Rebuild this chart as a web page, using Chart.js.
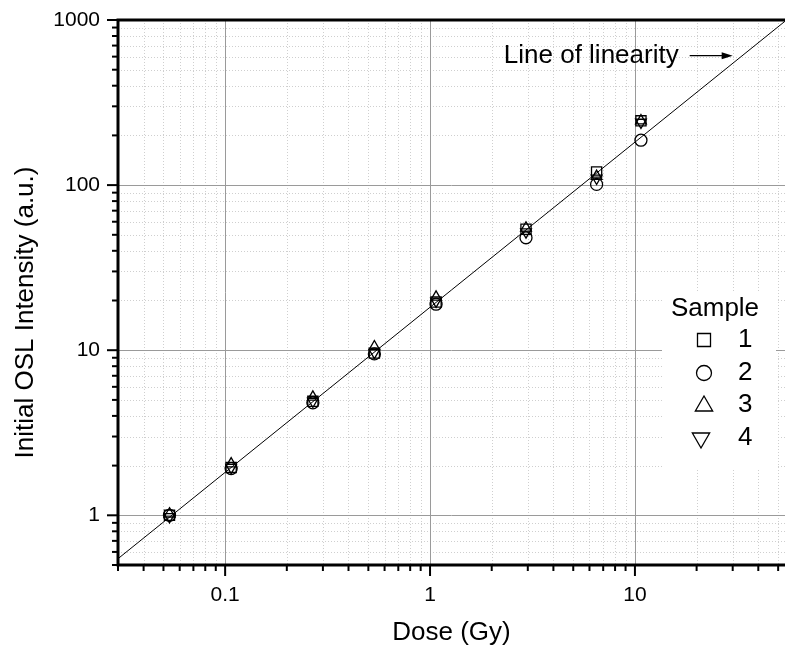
<!DOCTYPE html>
<html><head><meta charset="utf-8">
<script src="https://cdn.jsdelivr.net/npm/chart.js@4/dist/chart.umd.min.js"></script>
<style>html,body{margin:0;padding:0;background:#fff}canvas{display:block}</style>
</head><body>
<canvas id="c" width="785" height="648"></canvas>
<script>
// ---- data ----
const doses   = [0.0535, 0.107, 0.268, 0.535, 1.07, 2.94, 6.5, 10.7];
const sample1 = [1.00, 1.95, 4.90, 9.60, 19.6, 54, 120, 245];   // squares
const sample2 = [1.00, 1.92, 4.80, 9.50, 19.0, 48, 101, 187];   // circles
const sample3 = [1.02, 2.05, 5.20, 10.5, 21.0, 55, 113, 245];   // triangles
const sample4 = [0.98, 1.95, 4.90, 9.70, 19.8, 52, 110, 240];   // inverted triangles
const sampleLabels = ['1', '2', '3', '4'];
const legendTitle = 'Sample';
const linearityX = [0.03, 54];
const linearityY = [0.546, 983];
const linearityLabel = 'Line of linearity';
const xTickLabels = ['0.1', '1', '10'];
const yTickLabels = ['1', '10', '100', '1000'];
const xTitle = 'Dose (Gy)';
const yTitle = 'Initial OSL Intensity (a.u.)';

const FONT = '"Liberation Sans", Arial, sans-serif';
const toPts = (xs, ys) => xs.map((x, i) => ({x, y: ys[i]}));
const isDecade = v => Math.abs(Math.log10(v) - Math.round(Math.log10(v))) < 1e-6;
const decadeLabel = (v, list) => {
  if (!isDecade(v)) return '';
  const e = Math.round(Math.log10(v));
  const s = e < 0 ? '0.' + '0'.repeat(-e - 1) + '1' : String(Math.pow(10, e));
  return list.includes(s) ? s : '';
};

const samples = [sample1, sample2, sample3, sample4];
const styles = [
  {pointStyle: 'rect', radius: 7.2, rotation: 0, lr: 9.2},
  {pointStyle: 'circle', radius: 6, rotation: 0, lr: 7.5},
  {pointStyle: 'triangle', radius: 6.2, rotation: 0, lr: 10},
  {pointStyle: 'triangle', radius: 6.2, rotation: 180, lr: 10}
];

const datasets = samples.map((s, i) => ({
  label: sampleLabels[i],
  data: toPts(doses, s),
  pointStyle: styles[i].pointStyle,
  pointRotation: styles[i].rotation,
  pointRadius: styles[i].radius,
  pointHoverRadius: styles[i].radius,
  pointBorderWidth: 1.3,
  pointBorderColor: '#000',
  pointBackgroundColor: 'rgba(0,0,0,0)',
  showLine: false
}));
datasets.unshift({
  label: linearityLabel,
  data: toPts(linearityX, linearityY),
  showLine: true,
  borderColor: '#000',
  borderWidth: 1,
  pointRadius: 0,
  fill: false
});

function minorValues(min, max) {
  const out = [];
  for (let e = Math.floor(Math.log10(min)); e <= Math.ceil(Math.log10(max)); e++) {
    for (let m = 1; m <= 9; m++) {
      const v = m * Math.pow(10, e);
      if (v >= min * 0.9999 && v <= max * 1.0001) out.push(v);
    }
  }
  return out;
}

const framePlugin = {
  id: 'frame',
  afterLayout(chart) {
    // the plot runs right to the edge of the picture, as in the reference
    const x = chart.scales.x, R = chart.width;
    x.right = R; x.width = R - x.left;
    x.configure();
    chart.chartArea.right = R;
    chart.chartArea.width = R - chart.chartArea.left;
  },
  beforeDraw(chart) {
    const ctx = chart.ctx;
    ctx.save(); ctx.fillStyle = '#fff'; ctx.fillRect(0, 0, chart.width, chart.height); ctx.restore();
  },
  beforeDatasetsDraw(chart) {
    const {ctx, chartArea: a, scales: {x, y}} = chart;
    const xv = minorValues(x.min, x.max), yv = minorValues(y.min, y.max);
    ctx.save();
    ctx.strokeStyle = '#cfcfcf'; ctx.lineWidth = 1; ctx.setLineDash([1, 2]);
    xv.filter(v => !isDecade(v)).forEach(v => {
      const px = Math.round(x.getPixelForValue(v)) + 0.5;
      ctx.beginPath(); ctx.moveTo(px, a.top); ctx.lineTo(px, a.bottom); ctx.stroke();
    });
    yv.filter(v => !isDecade(v)).forEach(v => {
      const py = Math.round(y.getPixelForValue(v)) + 0.5;
      ctx.beginPath(); ctx.moveTo(a.left, py); ctx.lineTo(a.right, py); ctx.stroke();
    });
    ctx.setLineDash([]); ctx.strokeStyle = '#9a9a9a'; ctx.lineWidth = 1;
    xv.filter(isDecade).forEach(v => {
      const px = Math.round(x.getPixelForValue(v)) + 0.5;
      ctx.beginPath(); ctx.moveTo(px, a.top); ctx.lineTo(px, a.bottom); ctx.stroke();
    });
    yv.filter(isDecade).forEach(v => {
      const py = Math.round(y.getPixelForValue(v)) + 0.5;
      ctx.beginPath(); ctx.moveTo(a.left, py); ctx.lineTo(a.right, py); ctx.stroke();
    });
    ctx.restore();
  },
  afterDatasetsDraw(chart) {
    const {ctx, chartArea: a, scales: {x, y}} = chart;
    const xv = minorValues(x.min, x.max), yv = minorValues(y.min, y.max);
    ctx.save();
    ctx.strokeStyle = '#000'; ctx.lineWidth = 2;
    xv.forEach(v => {
      const px = x.getPixelForValue(v), len = isDecade(v) ? 11 : 6;
      ctx.beginPath(); ctx.moveTo(px, a.bottom); ctx.lineTo(px, a.bottom + len); ctx.stroke();
    });
    yv.forEach(v => {
      const py = y.getPixelForValue(v), len = isDecade(v) ? 11 : 6;
      ctx.beginPath(); ctx.moveTo(a.left, py); ctx.lineTo(a.left - len, py); ctx.stroke();
    });
    ctx.lineWidth = 3;
    ctx.beginPath();
    ctx.moveTo(a.left, a.bottom); ctx.lineTo(a.right, a.bottom);
    ctx.moveTo(a.left, a.bottom + 1.5); ctx.lineTo(a.left, a.top - 1.5);
    ctx.moveTo(a.left - 1.5, a.top); ctx.lineTo(a.right, a.top);
    ctx.stroke();

    // y axis title (placed slightly below the plot centre, as in the reference)
    ctx.save();
    ctx.translate(26, (a.top + a.bottom) / 2 + 20);
    ctx.rotate(-Math.PI / 2);
    ctx.fillStyle = '#000'; ctx.font = '26px ' + FONT;
    ctx.textAlign = 'center'; ctx.textBaseline = 'middle';
    ctx.fillText(yTitle, 0, 0);
    ctx.restore();

    // Line of linearity annotation
    const tipX = x.getPixelForValue(30), startX = x.getPixelForValue(18.5);
    const ay = y.getPixelForValue(608);
    ctx.lineWidth = 1.2;
    ctx.beginPath(); ctx.moveTo(startX, ay); ctx.lineTo(tipX - 8, ay); ctx.stroke();
    ctx.fillStyle = '#000';
    ctx.beginPath(); ctx.moveTo(tipX, ay); ctx.lineTo(tipX - 11, ay - 3.5); ctx.lineTo(tipX - 11, ay + 3.5); ctx.closePath(); ctx.fill();
    ctx.font = '26px ' + FONT; ctx.textAlign = 'right'; ctx.textBaseline = 'middle';
    ctx.fillText(linearityLabel, startX - 11, ay);

    // Legend
    ctx.fillStyle = '#fff';
    ctx.fillRect(662, 293, 114, 177);
    ctx.fillStyle = '#000';
    ctx.textAlign = 'center'; ctx.textBaseline = 'middle';
    ctx.font = '26px ' + FONT;
    ctx.fillText(legendTitle, 715, 309);
    const rows = [340, 373, 405, 438];
    const mx = [704, 704, 704, 701];
    sampleLabels.forEach((lab, i) => {
      ctx.strokeStyle = '#000'; ctx.fillStyle = 'rgba(0,0,0,0)'; ctx.lineWidth = 1.3;
      Chart.helpers.drawPoint(ctx, {pointStyle: styles[i].pointStyle, rotation: styles[i].rotation, radius: styles[i].lr, borderWidth: 1.3}, mx[i], rows[i] + (i === 2 ? 1 : 0));
      ctx.fillStyle = '#000'; ctx.textAlign = 'left';
      ctx.fillText(lab, 738, rows[i]);
    });
    ctx.restore();
  }
};

new Chart(document.getElementById('c'), {
  type: 'scatter',
  data: {datasets},
  options: {
    responsive: false,
    animation: false,
    events: [],
    layout: {padding: {top: 20, right: 0, left: 0, bottom: 0}},
    plugins: {legend: {display: false}, tooltip: {enabled: false}},
    scales: {
      x: {
        type: 'logarithmic', min: 0.03, max: 54,
        grid: {display: false, drawTicks: false}, border: {display: false},
        afterFit: s => { s.height = 83; s.paddingLeft = 0; s.paddingRight = 0; },
        ticks: {
          autoSkip: false, maxRotation: 0, padding: 18, color: '#000',
          font: {family: FONT, size: 21},
          callback: v => decadeLabel(v, xTickLabels)
        },
        title: {display: true, text: xTitle, color: '#000', font: {family: FONT, size: 26}, padding: {top: 0, bottom: 0}}
      },
      y: {
        type: 'logarithmic', min: 0.5, max: 1000,
        grid: {display: false, drawTicks: false}, border: {display: false},
        afterFit: s => { s.width = 118; s.paddingTop = 0; s.paddingBottom = 0; },
        ticks: {
          autoSkip: false, padding: 18, color: '#000',
          font: {family: FONT, size: 21},
          callback: v => decadeLabel(v, yTickLabels)
        },
        title: {display: false, text: yTitle}
      }
    }
  },
  plugins: [framePlugin]
});
</script>
</body></html>
